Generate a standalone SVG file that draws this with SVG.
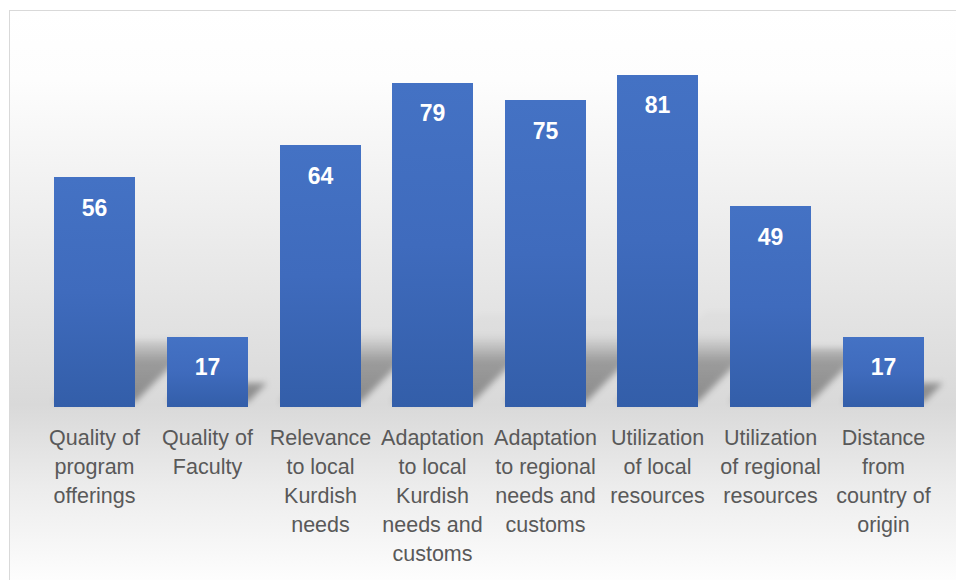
<svg xmlns="http://www.w3.org/2000/svg" width="956" height="580" viewBox="0 0 956 580">
  <defs>
    <linearGradient id="bg" x1="0" y1="0" x2="0" y2="1">
      <stop offset="0" stop-color="#ffffff"/>
      <stop offset="0.12" stop-color="#fdfdfd"/>
      <stop offset="0.68" stop-color="#d9d9d9"/>
      <stop offset="0.82" stop-color="#ececec"/>
      <stop offset="1" stop-color="#ffffff"/>
    </linearGradient>
    <linearGradient id="bar" x1="0" y1="0" x2="0" y2="1">
      <stop offset="0" stop-color="#4472c4"/>
      <stop offset="0.5" stop-color="#3f6bbd"/>
      <stop offset="1" stop-color="#335ea9"/>
    </linearGradient>
    <linearGradient id="shade" gradientUnits="userSpaceOnUse" x1="0" y1="402" x2="0" y2="335">
      <stop offset="0" stop-color="#000000" stop-opacity="0.36"/>
      <stop offset="0.6" stop-color="#000000" stop-opacity="0.3"/>
      <stop offset="1" stop-color="#000000" stop-opacity="0.02"/>
    </linearGradient>
    <filter id="blur" x="-10%" y="-30%" width="120%" height="160%">
      <feGaussianBlur stdDeviation="3"/>
    </filter>
    <style>
      .bar { fill: url(#bar); }
      .val { font-family: "Liberation Sans", Arial, sans-serif; font-weight: bold; font-size: 23px; fill: #ffffff; text-anchor: middle; }
      .cat { font-family: "Liberation Sans", Arial, sans-serif; font-size: 21.5px; fill: #595959; text-anchor: middle; }
    </style>
  </defs>

  <rect x="9.5" y="10.5" width="960" height="580" fill="url(#bg)" stroke="#d9d9d9" stroke-width="1"/>

  <g id="shadows" fill="url(#shade)" filter="url(#blur)">
    <polygon points="54,402 135,402 197,340 116,340"/>
    <polygon points="167,402 248,402 267,383 186,383"/>
    <polygon points="280,402 361,402 432,331 351,331"/>
    <polygon points="392,402 473,402 560,315 479,315"/>
    <polygon points="505,402 586,402 669,319 588,319"/>
    <polygon points="617,402 698,402 788,312 707,312"/>
    <polygon points="730,402 811,402 865,348 784,348"/>
    <polygon points="843,402 924,402 943,383 862,383"/>
  </g>

  <g id="bar1">
    <rect class="bar" x="54" y="177" width="81" height="230"/>
    <text class="val" x="94.5" y="216">56</text>
    <text class="cat" x="94.5" y="445">Quality of</text>
    <text class="cat" x="94.5" y="474">program</text>
    <text class="cat" x="94.5" y="503">offerings</text>
  </g>
  <g id="bar2">
    <rect class="bar" x="167" y="337" width="81" height="70"/>
    <text class="val" x="207.5" y="375">17</text>
    <text class="cat" x="207.5" y="445">Quality of</text>
    <text class="cat" x="207.5" y="474">Faculty</text>
  </g>
  <g id="bar3">
    <rect class="bar" x="280" y="145" width="81" height="262"/>
    <text class="val" x="320.5" y="184">64</text>
    <text class="cat" x="320.5" y="445">Relevance</text>
    <text class="cat" x="320.5" y="474">to local</text>
    <text class="cat" x="320.5" y="503">Kurdish</text>
    <text class="cat" x="320.5" y="532">needs</text>
  </g>
  <g id="bar4">
    <rect class="bar" x="392" y="83" width="81" height="324"/>
    <text class="val" x="432.5" y="121">79</text>
    <text class="cat" x="432.5" y="445">Adaptation</text>
    <text class="cat" x="432.5" y="474">to local</text>
    <text class="cat" x="432.5" y="503">Kurdish</text>
    <text class="cat" x="432.5" y="532">needs and</text>
    <text class="cat" x="432.5" y="561">customs</text>
  </g>
  <g id="bar5">
    <rect class="bar" x="505" y="100" width="81" height="307"/>
    <text class="val" x="545.5" y="139">75</text>
    <text class="cat" x="545.5" y="445">Adaptation</text>
    <text class="cat" x="545.5" y="474">to regional</text>
    <text class="cat" x="545.5" y="503">needs and</text>
    <text class="cat" x="545.5" y="532">customs</text>
  </g>
  <g id="bar6">
    <rect class="bar" x="617" y="75" width="81" height="332"/>
    <text class="val" x="657.5" y="113">81</text>
    <text class="cat" x="657.5" y="445">Utilization</text>
    <text class="cat" x="657.5" y="474">of local</text>
    <text class="cat" x="657.5" y="503">resources</text>
  </g>
  <g id="bar7">
    <rect class="bar" x="730" y="206" width="81" height="201"/>
    <text class="val" x="770.5" y="245">49</text>
    <text class="cat" x="770.5" y="445">Utilization</text>
    <text class="cat" x="770.5" y="474">of regional</text>
    <text class="cat" x="770.5" y="503">resources</text>
  </g>
  <g id="bar8">
    <rect class="bar" x="843" y="337" width="81" height="70"/>
    <text class="val" x="883.5" y="375">17</text>
    <text class="cat" x="883.5" y="445">Distance</text>
    <text class="cat" x="883.5" y="474">from</text>
    <text class="cat" x="883.5" y="503">country of</text>
    <text class="cat" x="883.5" y="532">origin</text>
  </g>
</svg>
